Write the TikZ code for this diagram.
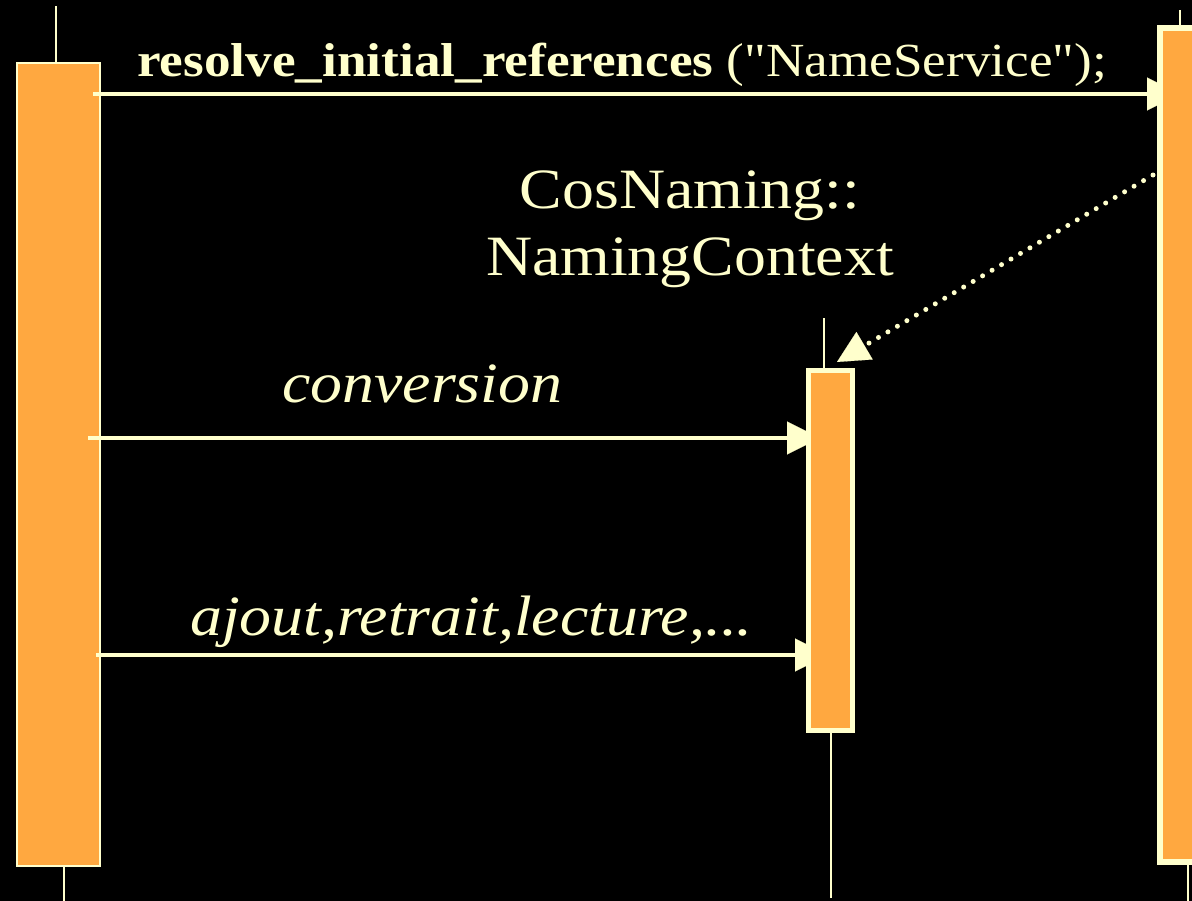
\documentclass[tikz,border=0pt]{standalone}
\usepackage{fontspec}
\newfontfamily\tnr{Liberation Serif}[FakeStretch=1.12]
\usetikzlibrary{arrows.meta}
\definecolor{cream}{RGB}{255,255,204}
\definecolor{barc}{RGB}{255,168,64}
\begin{document}
\begin{tikzpicture}[x=1bp,y=-1bp,
  lifeline/.style={draw=cream, line width=2bp},
  msg/.style={draw=cream, line width=4bp, -{Triangle[length=33bp,width=33bp,line width=0.1bp]}},
  reply/.style={draw=cream, line width=5bp, line cap=round, dash pattern=on 0bp off 11bp, -{Triangle[length=32bp,width=32bp,line width=0.1bp]}},
  barbox/.style={draw=cream, fill=barc, inner sep=0pt, outer sep=0pt},
  lbl/.style={text=cream, inner sep=0pt, font=\tnr\fontsize{57bp}{67bp}\selectfont}]
\useasboundingbox (0,0) rectangle (1192,901);
\clip (0,0) rectangle (1192,901);
\fill[black] (0,0) rectangle (1192,901);

% left bar
\path (58.5,464.5) node[barbox, line width=2.5bp, minimum width=82.5bp, minimum height=802.5bp] (lb) {};
% lifeline ends
\coordinate (lt) at (56,6);
\coordinate (lbo) at (64,901);
\coordinate (mt) at (824,318);
\coordinate (mbo) at (831,898);
\coordinate (rt) at (1180,10);
\coordinate (rbo) at (1188,901);
\draw[lifeline] (lt) -- (lt |- lb.north);
\draw[lifeline] (lbo) -- (lbo |- lb.south);

% message endpoints
\coordinate (m1s) at (93,94);
\coordinate (m1e) at (1180,94);
\coordinate (m2s) at (88,438);
\coordinate (m2e) at (820,438);
\coordinate (m3s) at (96,655);
\coordinate (m3e) at (828,655);
\coordinate (rs) at (1153,175);
\coordinate (re) at (837,362);

\draw[msg] (m1s) -- (m1e);
\draw[msg] (m2s) -- (m2e);
\draw[msg] (m3s) -- (m3e);
\draw[reply] (rs) -- (re);

\draw[lifeline] (mt) -- (824,368);
\draw[lifeline] (mbo) -- (831,733);
\draw[lifeline] (rt) -- (1180,25);
\draw[lifeline] (rbo) -- (1188,865);

\node[barbox, line width=5bp, minimum width=44bp, minimum height=360bp] (mb) at (830.5,550.5) {};
\node[barbox, line width=6bp, minimum width=45bp, minimum height=834bp] (rb) at (1182.5,445) {};

% labels
\node[lbl, anchor=base west, font=\tnr\fontsize{47.5bp}{57bp}\selectfont] (t1) at (137,76) {\textbf{resolve\_initial\_references} ("NameService");};
\node[lbl, anchor=base] (c1) at (690,208) {CosNaming::};
\node[lbl, anchor=base] (c2) at (690,275) {NamingContext};
\node[lbl, anchor=base west] (t2) at (282,402) {\textit{conversion}};
\node[lbl, anchor=base west] (t3) at (190,635) {\textit{ajout,retrait,lecture,...}};
\end{tikzpicture}
\end{document}
